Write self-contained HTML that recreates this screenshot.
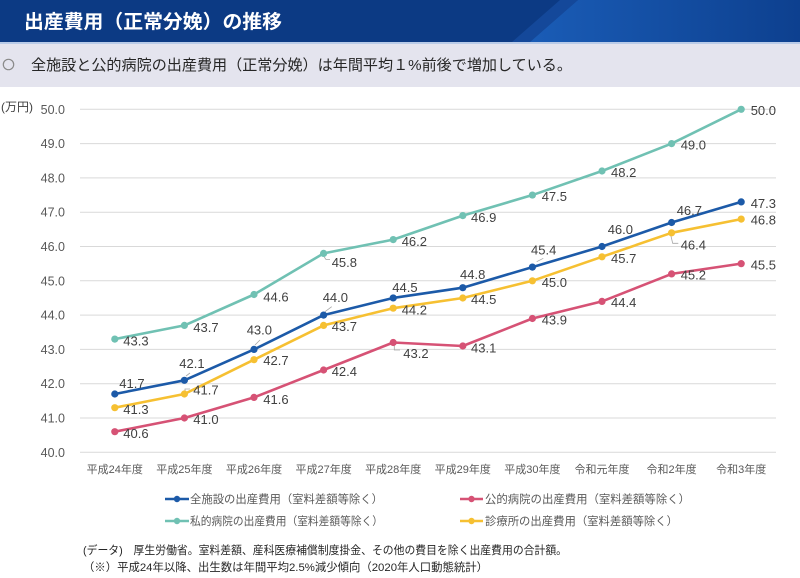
<!DOCTYPE html>
<html><head><meta charset="utf-8">
<style>
html,body{margin:0;padding:0;background:#fff;}
svg{display:block;}
text{font-family:"Liberation Sans","Noto Sans CJK JP",sans-serif;}
</style></head>
<body>
<svg width="800" height="578" viewBox="0 0 800 578" xmlns="http://www.w3.org/2000/svg">
<defs>
<linearGradient id="hg" x1="0" y1="0" x2="1" y2="0">
<stop offset="0" stop-color="#1a5cb6"/>
<stop offset="1" stop-color="#0d408f"/>
</linearGradient>
</defs>
<!-- header -->
<rect x="0" y="0" width="800" height="42" fill="#0c3a84"/>
<polygon points="560,0 578,0 530,42 512,42" fill="#14489a"/>
<polygon points="578,0 800,0 800,42 530,42" fill="url(#hg)"/>
<rect x="0" y="42" width="800" height="2" fill="#b9cbe8"/>
<rect x="0" y="44" width="800" height="43" fill="#e4e4ee"/>
<text x="24" y="28" fill="#ffffff" font-size="19" font-weight="bold" textLength="258" lengthAdjust="spacingAndGlyphs">出産費用（正常分娩）の推移</text>
<circle cx="8.5" cy="64.5" r="5.2" fill="none" stroke="#8a8a8a" stroke-width="1.2"/>
<text x="31" y="70" fill="#262626" font-size="15" textLength="541" lengthAdjust="spacingAndGlyphs">全施設と公的病院の出産費用（正常分娩）は年間平均１%前後で増加している。</text>

<!-- gridlines -->
<g stroke="#d9d9d9" stroke-width="1">
<line x1="80" x2="776" y1="452.3" y2="452.3"/>
<line x1="80" x2="776" y1="418" y2="418"/>
<line x1="80" x2="776" y1="383.7" y2="383.7"/>
<line x1="80" x2="776" y1="349.4" y2="349.4"/>
<line x1="80" x2="776" y1="315.1" y2="315.1"/>
<line x1="80" x2="776" y1="280.8" y2="280.8"/>
<line x1="80" x2="776" y1="246.5" y2="246.5"/>
<line x1="80" x2="776" y1="212.2" y2="212.2"/>
<line x1="80" x2="776" y1="177.9" y2="177.9"/>
<line x1="80" x2="776" y1="143.6" y2="143.6"/>
<line x1="80" x2="776" y1="109.3" y2="109.3"/>
</g>
<!-- y labels -->
<g fill="#595959" font-size="12.5" text-anchor="end">
<text x="65" y="456.8">40.0</text>
<text x="65" y="422.5">41.0</text>
<text x="65" y="388.2">42.0</text>
<text x="65" y="353.9">43.0</text>
<text x="65" y="319.6">44.0</text>
<text x="65" y="285.3">45.0</text>
<text x="65" y="251">46.0</text>
<text x="65" y="216.7">47.0</text>
<text x="65" y="182.4">48.0</text>
<text x="65" y="148.1">49.0</text>
<text x="65" y="113.8">50.0</text>
</g>
<text x="1" y="111" fill="#404040" font-size="12">(万円)</text>

<!-- x labels -->
<g fill="#595959" font-size="11" text-anchor="middle">
<text x="114.8" y="473">平成24年度</text>
<text x="184.4" y="473">平成25年度</text>
<text x="254" y="473">平成26年度</text>
<text x="323.6" y="473">平成27年度</text>
<text x="393.2" y="473">平成28年度</text>
<text x="462.8" y="473">平成29年度</text>
<text x="532.4" y="473">平成30年度</text>
<text x="602" y="473">令和元年度</text>
<text x="671.6" y="473">令和2年度</text>
<text x="741.2" y="473">令和3年度</text>
</g>

<!-- leader lines -->
<g stroke="#a6a6a6" stroke-width="0.8" fill="none">
<polyline points="324,256.7 326,259.5 330,259.5"/>
<polyline points="394.3,345 394.3,350 400,350"/>
<polyline points="670.7,235 672.7,243.3 678.3,243.3"/>
<line x1="536.7" y1="261.7" x2="543.3" y2="258.3"/>
<line x1="255" y1="345" x2="260" y2="340"/>
<line x1="325" y1="311.7" x2="331.7" y2="306.7"/>
<line x1="186" y1="376" x2="190" y2="373"/>
<polyline points="185,391 185,389 190,389"/>
</g>

<!-- series -->
<g fill="none" stroke-width="2.6" stroke-linejoin="round" stroke-linecap="round">
<polyline stroke="#70c1b3" points="114.8,339.1 184.4,325.4 254,294.5 323.6,253.4 393.2,239.6 462.8,215.6 532.4,195.05 602,171 671.6,143.6 741.2,109.3"/>
<polyline stroke="#d65275" points="114.8,431.7 184.4,418 254,397.4 323.6,370 393.2,342.5 462.8,346 532.4,318.5 602,301.4 671.6,273.9 741.2,263.65"/>
<polyline stroke="#f6c032" points="114.8,407.7 184.4,394 254,359.7 323.6,325.4 393.2,308.2 462.8,298 532.4,280.8 602,256.8 671.6,232.8 741.2,219.1"/>
<polyline stroke="#1c5aa8" points="114.8,394 184.4,380.3 254,349.4 323.6,315.1 393.2,297.95 462.8,287.7 532.4,267.1 602,246.5 671.6,222.5 741.2,201.9"/>
</g>
<g fill="#70c1b3">
<circle cx="114.8" cy="339.1" r="3.6"/><circle cx="184.4" cy="325.4" r="3.6"/><circle cx="254" cy="294.5" r="3.6"/><circle cx="323.6" cy="253.4" r="3.6"/><circle cx="393.2" cy="239.6" r="3.6"/><circle cx="462.8" cy="215.6" r="3.6"/><circle cx="532.4" cy="195.05" r="3.6"/><circle cx="602" cy="171" r="3.6"/><circle cx="671.6" cy="143.6" r="3.6"/><circle cx="741.2" cy="109.3" r="3.6"/>
</g>
<g fill="#d65275">
<circle cx="114.8" cy="431.7" r="3.6"/><circle cx="184.4" cy="418" r="3.6"/><circle cx="254" cy="397.4" r="3.6"/><circle cx="323.6" cy="370" r="3.6"/><circle cx="393.2" cy="342.5" r="3.6"/><circle cx="462.8" cy="346" r="3.6"/><circle cx="532.4" cy="318.5" r="3.6"/><circle cx="602" cy="301.4" r="3.6"/><circle cx="671.6" cy="273.9" r="3.6"/><circle cx="741.2" cy="263.65" r="3.6"/>
</g>
<g fill="#f6c032">
<circle cx="114.8" cy="407.7" r="3.6"/><circle cx="184.4" cy="394" r="3.6"/><circle cx="254" cy="359.7" r="3.6"/><circle cx="323.6" cy="325.4" r="3.6"/><circle cx="393.2" cy="308.2" r="3.6"/><circle cx="462.8" cy="298" r="3.6"/><circle cx="532.4" cy="280.8" r="3.6"/><circle cx="602" cy="256.8" r="3.6"/><circle cx="671.6" cy="232.8" r="3.6"/><circle cx="741.2" cy="219.1" r="3.6"/>
</g>
<g fill="#1c5aa8">
<circle cx="114.8" cy="394" r="3.6"/><circle cx="184.4" cy="380.3" r="3.6"/><circle cx="254" cy="349.4" r="3.6"/><circle cx="323.6" cy="315.1" r="3.6"/><circle cx="393.2" cy="297.95" r="3.6"/><circle cx="462.8" cy="287.7" r="3.6"/><circle cx="532.4" cy="267.1" r="3.6"/><circle cx="602" cy="246.5" r="3.6"/><circle cx="671.6" cy="222.5" r="3.6"/><circle cx="741.2" cy="201.9" r="3.6"/>
</g>

<!-- data labels -->
<g fill="#404040" font-size="13">
<text x="123.3" y="345.5">43.3</text>
<text x="193.3" y="331.8">43.7</text>
<text x="263.3" y="301.5">44.6</text>
<text x="331.7" y="267.2">45.8</text>
<text x="401.7" y="246.2">46.2</text>
<text x="471" y="222.2">46.9</text>
<text x="541.7" y="201.2">47.5</text>
<text x="611" y="176.8">48.2</text>
<text x="680.7" y="149.5">49.0</text>
<text x="750.7" y="115.2">50.0</text>

<text x="119.3" y="387.8">41.7</text>
<text x="179.3" y="367.8">42.1</text>
<text x="246.7" y="334.5">43.0</text>
<text x="322.7" y="302.2">44.0</text>
<text x="392.3" y="292.2">44.5</text>
<text x="460" y="278.8">44.8</text>
<text x="531" y="254.5">45.4</text>
<text x="607.7" y="233.8">46.0</text>
<text x="676.7" y="215.2">46.7</text>
<text x="750.7" y="207.8">47.3</text>

<text x="123.3" y="413.8">41.3</text>
<text x="193.3" y="394.5">41.7</text>
<text x="263.3" y="365.2">42.7</text>
<text x="331.7" y="331.2">43.7</text>
<text x="401.7" y="314.5">44.2</text>
<text x="471" y="304">44.5</text>
<text x="541.7" y="287.2">45.0</text>
<text x="611" y="262.8">45.7</text>
<text x="680.7" y="249.5">46.4</text>
<text x="750.7" y="224.5">46.8</text>

<text x="123.3" y="437.8">40.6</text>
<text x="193.3" y="423.8">41.0</text>
<text x="263.3" y="403.8">41.6</text>
<text x="331.7" y="376.2">42.4</text>
<text x="403.3" y="357.8">43.2</text>
<text x="471" y="352.5">43.1</text>
<text x="541.7" y="324.5">43.9</text>
<text x="611" y="306.8">44.4</text>
<text x="680.7" y="279.5">45.2</text>
<text x="750.7" y="269.5">45.5</text>
</g>

<!-- legend -->
<g stroke-width="2.6">
<line x1="165" x2="189" y1="499" y2="499" stroke="#1c5aa8"/>
<line x1="165" x2="189" y1="521" y2="521" stroke="#70c1b3"/>
<line x1="460" x2="483" y1="499" y2="499" stroke="#d65275"/>
<line x1="460" x2="483" y1="521" y2="521" stroke="#f6c032"/>
</g>
<circle cx="177" cy="499" r="3.2" fill="#1c5aa8"/>
<circle cx="177" cy="521" r="3.2" fill="#70c1b3"/>
<circle cx="471.5" cy="499" r="3.2" fill="#d65275"/>
<circle cx="471.5" cy="521" r="3.2" fill="#f6c032"/>
<g fill="#595959" font-size="11.4">
<text x="190" y="503" textLength="193" lengthAdjust="spacingAndGlyphs">全施設の出産費用（室料差額等除く）</text>
<text x="190" y="525" textLength="193" lengthAdjust="spacingAndGlyphs">私的病院の出産費用（室料差額等除く）</text>
<text x="485" y="503" textLength="205" lengthAdjust="spacingAndGlyphs">公的病院の出産費用（室料差額等除く）</text>
<text x="485" y="525" textLength="193" lengthAdjust="spacingAndGlyphs">診療所の出産費用（室料差額等除く）</text>
</g>

<!-- footnotes -->
<g fill="#262626" font-size="11.3">
<text x="83" y="554" textLength="484" lengthAdjust="spacingAndGlyphs">(データ)　厚生労働省。室料差額、産科医療補償制度掛金、その他の費目を除く出産費用の合計額。</text>
<text x="83" y="571" textLength="405" lengthAdjust="spacingAndGlyphs">（※）平成24年以降、出生数は年間平均2.5%減少傾向（2020年人口動態統計）</text>
</g>
</svg>
</body></html>
